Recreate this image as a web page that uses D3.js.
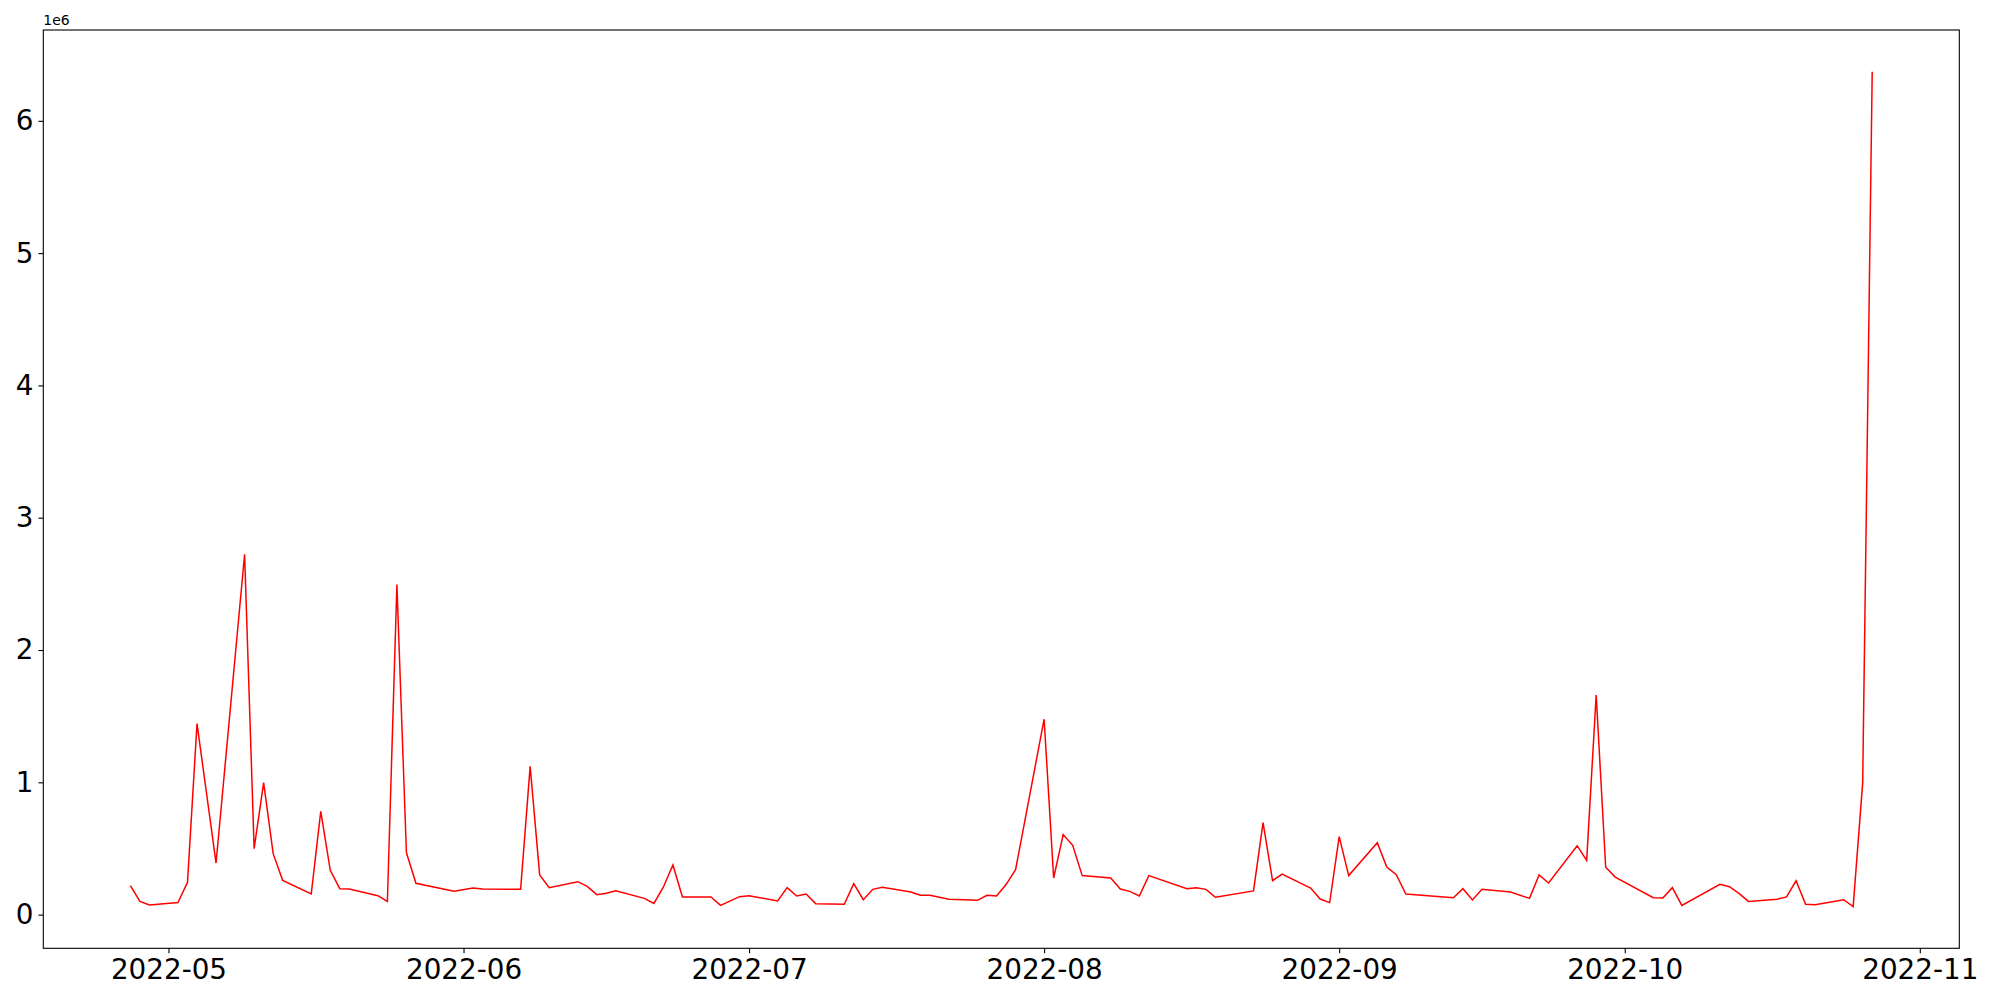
<!DOCTYPE html>
<html>
<head>
<meta charset="utf-8">
<script src="https://cdn.jsdelivr.net/npm/d3@7"></script>
<style>
  body { margin: 0; background: #fff; }
  text { font-family: "DejaVu Sans", sans-serif; }
</style>
</head>
<body>
<script>
// daily dates and values (values in raw units, axis shows 1e6)
var dates = [
  "2022-04-27","2022-04-28","2022-04-29","2022-05-02","2022-05-03","2022-05-04","2022-05-06",
  "2022-05-09","2022-05-10","2022-05-11","2022-05-12","2022-05-13","2022-05-16","2022-05-17",
  "2022-05-18","2022-05-19","2022-05-20","2022-05-23","2022-05-24","2022-05-25","2022-05-26",
  "2022-05-27","2022-05-31","2022-06-02","2022-06-03","2022-06-07","2022-06-08","2022-06-09",
  "2022-06-10","2022-06-13","2022-06-14","2022-06-15","2022-06-16","2022-06-17","2022-06-20",
  "2022-06-21","2022-06-22","2022-06-23","2022-06-24","2022-06-27","2022-06-28","2022-06-30",
  "2022-07-01","2022-07-04","2022-07-05","2022-07-06","2022-07-07","2022-07-08","2022-07-11",
  "2022-07-12","2022-07-13","2022-07-14","2022-07-15","2022-07-18","2022-07-19","2022-07-20",
  "2022-07-22","2022-07-25","2022-07-26","2022-07-27","2022-07-28","2022-07-29","2022-08-01",
  "2022-08-02","2022-08-03","2022-08-04","2022-08-05","2022-08-08","2022-08-09","2022-08-10",
  "2022-08-11","2022-08-12","2022-08-16","2022-08-17","2022-08-18","2022-08-19","2022-08-23",
  "2022-08-24","2022-08-25","2022-08-26","2022-08-29","2022-08-30","2022-08-31","2022-09-01",
  "2022-09-02","2022-09-05","2022-09-06","2022-09-07","2022-09-08","2022-09-13","2022-09-14",
  "2022-09-15","2022-09-16","2022-09-19","2022-09-21","2022-09-22","2022-09-23","2022-09-26",
  "2022-09-27","2022-09-28","2022-09-29","2022-09-30","2022-10-04","2022-10-05","2022-10-06",
  "2022-10-07","2022-10-11","2022-10-12","2022-10-13","2022-10-14","2022-10-17","2022-10-18",
  "2022-10-19","2022-10-20","2022-10-21","2022-10-24","2022-10-25","2022-10-26","2022-10-27"
];
var values = [
  219000, 100000, 73000, 91000, 244000, 1444000, 390000,
  2724000, 499000, 998000, 461000, 259000, 156000, 781000,
  335000, 196000, 194000, 143000, 100000, 2495000, 469000,
  237000, 176000, 201000, 194000, 191000, 1121000, 300000,
  204000, 249000, 214000, 151000, 161000, 181000, 123000,
  85000, 209000, 375000, 133000, 133000, 70000, 136000,
  143000, 103000, 204000, 141000, 156000, 83000, 78000,
  234000, 113000, 191000, 206000, 171000, 146000, 146000,
  116000, 108000, 146000, 141000, 227000, 340000, 1477000,
  277000, 605000, 524000, 295000, 277000, 194000, 176000,
  141000, 295000, 196000, 204000, 191000, 131000, 179000,
  695000, 257000, 307000, 201000, 118000, 91000, 590000,
  295000, 544000, 360000, 302000, 156000, 128000, 196000,
  111000, 191000, 171000, 123000, 300000, 239000, 521000,
  410000, 1660000, 358000, 284000, 128000, 126000, 204000,
  70000, 229000, 211000, 161000, 100000, 117000, 134000,
  256000, 78000, 74000, 113000, 61000, 998000, 6371000
];
var yTicks = [0, 1e6, 2e6, 3e6, 4e6, 5e6, 6e6];
var offsetLabel = "1e6";

// figure layout
var width = 2000;
var height = 1000;
var margin = {left: 43.3, right: 40.7, top: 30, bottom: 51.7};
var innerW = width - margin.left - margin.right;
var innerH = height - margin.top - margin.bottom;
var tickLen = 4.86;
var tickFont = 27.8;

var parse = d3.utcParse("%Y-%m-%d");
var data = dates.map(function(d, i) { return {date: parse(d), value: values[i]}; });

// matplotlib style 5% padding on both axes
var xExt = d3.extent(data, function(d) { return d.date; });
var xPad = (xExt[1] - xExt[0]) * 0.05;
var yExt = d3.extent(data, function(d) { return d.value; });
var yPad = (yExt[1] - yExt[0]) * 0.05;

var x = d3.scaleUtc()
          .domain([new Date(+xExt[0] - xPad), new Date(+xExt[1] + xPad)])
          .range([0, innerW]);
var y = d3.scaleLinear()
          .domain([yExt[0] - yPad, yExt[1] + yPad])
          .range([innerH, 0]);

var svg = d3.select("body")
            .append("svg")
            .attr("width", width)
            .attr("height", height)
            .style("background", "#fff");

var g = svg.append("g")
           .attr("transform", "translate(" + margin.left + "," + margin.top + ")");

// x axis, monthly ticks
var xAxis = g.append("g")
             .attr("transform", "translate(0," + innerH + ")")
             .call(d3.axisBottom(x)
                     .ticks(d3.utcMonth.every(1))
                     .tickFormat(d3.utcFormat("%Y-%m"))
                     .tickSizeOuter(0)
                     .tickSize(tickLen)
                     .tickPadding(6));
xAxis.select(".domain").remove();
xAxis.selectAll("line").attr("stroke", "#000").attr("stroke-width", 1.1);
xAxis.selectAll("text")
     .attr("fill", "#000")
     .style("font-size", tickFont + "px")
     .style("font-family", "'DejaVu Sans', sans-serif");

// y axis
var yAxis = g.append("g")
             .call(d3.axisLeft(y)
                     .tickValues(yTicks)
                     .tickFormat(function(d) { return d / 1e6; })
                     .tickSizeOuter(0)
                     .tickSize(tickLen)
                     .tickPadding(5));
yAxis.select(".domain").remove();
yAxis.selectAll("line").attr("stroke", "#000").attr("stroke-width", 1.1);
yAxis.selectAll("text")
     .attr("fill", "#000")
     .style("font-size", tickFont + "px")
     .style("font-family", "'DejaVu Sans', sans-serif");

// offset text above the y axis
svg.append("text")
   .attr("x", margin.left)
   .attr("y", margin.top - 5)
   .attr("font-size", 13.9)
   .attr("fill", "#000")
   .text(offsetLabel);

// the series
var line = d3.line()
             .x(function(d) { return x(d.date); })
             .y(function(d) { return y(d.value); });

g.append("path")
 .datum(data)
 .attr("d", line)
 .attr("fill", "none")
 .attr("stroke", "red")
 .attr("stroke-width", 1.5)
 .attr("stroke-linejoin", "miter");

// frame
g.append("rect")
 .attr("width", innerW)
 .attr("height", innerH)
 .attr("fill", "none")
 .attr("stroke", "#000")
 .attr("stroke-width", 1.1);
</script>
</body>
</html>
